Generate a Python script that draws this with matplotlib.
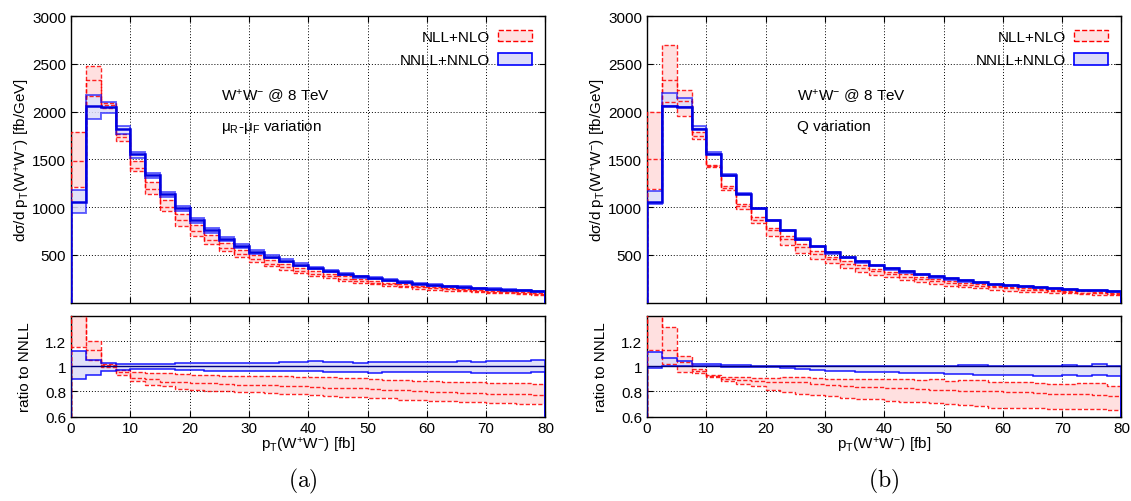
import matplotlib.pyplot as plt
import numpy as np
from matplotlib.patches import Patch

plt.rcParams["font.family"] = ["Liberation Sans", "DejaVu Sans"]
plt.rcParams["mathtext.fontset"] = "custom"
plt.rcParams["mathtext.rm"] = "Liberation Sans"
plt.rcParams["mathtext.it"] = "Liberation Sans:italic"
plt.rcParams["font.size"] = 11

# bin edges of pT(WW), 2.5 GeV bins
edges = np.arange(0, 82.5, 2.5)

# NNLL+NNLO central prediction [fb/GeV] (same in both panels)
nnll_central = [1050, 2060, 2050, 1815, 1555, 1332, 1137, 985, 865, 760, 668, 593, 534, 481, 436, 397,
                362, 330, 302, 274, 255, 233, 216, 199, 186, 172, 162, 150, 143, 135, 127, 119]

# (a) muR-muF variation, everything as ratio to NNLL central
nnll_up_a = [1.124, 1.053, 1.026, 1.021, 1.016, 1.016, 1.018, 1.024, 1.024, 1.024, 1.026, 1.029, 1.029, 1.026, 1.034, 1.037,
             1.039, 1.034, 1.032, 1.029, 1.032, 1.037, 1.037, 1.032, 1.034, 1.034, 1.045, 1.037, 1.045, 1.045, 1.045, 1.053]
nnll_dn_a = [0.895, 0.934, 0.966, 0.974, 0.976, 0.976, 0.976, 0.971, 0.968, 0.963, 0.963, 0.963, 0.961, 0.961, 0.961, 0.966,
             0.961, 0.955, 0.955, 0.955, 0.945, 0.953, 0.953, 0.955, 0.955, 0.953, 0.955, 0.950, 0.950, 0.950, 0.950, 0.953]
nll_up_a = [1.70, 1.20, 1.021, 0.974, 0.953, 0.945, 0.945, 0.942, 0.934, 0.932, 0.926, 0.926, 0.924, 0.924, 0.921, 0.916,
            0.913, 0.911, 0.908, 0.905, 0.895, 0.892, 0.889, 0.884, 0.879, 0.876, 0.874, 0.871, 0.866, 0.866, 0.863, 0.861]
nll_mid_a = [1.41, 1.13, 1.008, 0.955, 0.908, 0.895, 0.876, 0.876, 0.868, 0.868, 0.861, 0.853, 0.850, 0.847, 0.842, 0.839,
             0.834, 0.829, 0.826, 0.824, 0.816, 0.813, 0.808, 0.803, 0.797, 0.795, 0.789, 0.787, 0.782, 0.782, 0.776, 0.771]
nll_dn_a = [1.155, 1.05, 0.992, 0.934, 0.884, 0.850, 0.842, 0.816, 0.808, 0.803, 0.803, 0.795, 0.795, 0.789, 0.782, 0.776,
            0.771, 0.766, 0.755, 0.755, 0.745, 0.745, 0.732, 0.729, 0.724, 0.724, 0.718, 0.713, 0.708, 0.708, 0.703, 0.697]

# (b) Q variation
nnll_up_b = [1.113, 1.066, 1.045, 1.021, 1.016, 1.013, 1.008, 1.003, 1.0, 1.0, 1.005, 1.0, 1.0, 1.0, 1.0, 1.0,
             1.0, 1.0, 1.005, 1.005, 1.0, 1.011, 1.013, 1.0, 1.0, 1.0, 1.0, 1.0, 1.008, 1.0, 1.018, 1.0]
nnll_dn_b = [0.987, 1.0, 1.0, 1.0, 1.0, 0.997, 0.995, 0.995, 0.992, 0.987, 0.982, 0.974, 0.961, 0.961, 0.958, 0.955,
             0.953, 0.950, 0.945, 0.950, 0.942, 0.939, 0.934, 0.934, 0.934, 0.929, 0.926, 0.926, 0.929, 0.926, 0.934, 0.921]
nll_up_b = [1.90, 1.31, 1.084, 0.982, 0.929, 0.916, 0.911, 0.908, 0.908, 0.911, 0.913, 0.905, 0.900, 0.897, 0.897, 0.897,
            0.895, 0.895, 0.892, 0.895, 0.882, 0.892, 0.887, 0.876, 0.876, 0.871, 0.866, 0.861, 0.861, 0.863, 0.866, 0.845]
nll_mid_b = [1.43, 1.13, 1.03, 0.961, 0.921, 0.900, 0.887, 0.882, 0.874, 0.871, 0.871, 0.861, 0.850, 0.845, 0.837, 0.834,
             0.829, 0.824, 0.816, 0.811, 0.813, 0.805, 0.803, 0.800, 0.795, 0.792, 0.787, 0.782, 0.779, 0.776, 0.771, 0.763]
nll_dn_b = [1.13, 1.02, 0.955, 0.945, 0.913, 0.882, 0.861, 0.840, 0.811, 0.795, 0.782, 0.774, 0.766, 0.745, 0.739, 0.737,
            0.726, 0.718, 0.716, 0.708, 0.697, 0.692, 0.687, 0.671, 0.668, 0.666, 0.666, 0.660, 0.663, 0.660, 0.660, 0.653]

PINK = "#ffe0e0"
LBLUE = "#dcdcf8"
WW = "W$^{+}$W$^{-}$"


def draw_bands(ax, scale, nll, nnll, main):
    """nll = (up, mid, dn), nnll = (up, dn), all ratios; scale multiplies them."""
    nll = [np.asarray(v) * scale for v in nll]
    nnll = [np.asarray(v) * scale for v in nnll]
    ax.stairs(nll[0], edges, baseline=nll[2], fill=True, color=PINK, zorder=1)
    ax.stairs(nnll[0], edges, baseline=nnll[1], fill=True, color=LBLUE, alpha=0.85, zorder=2)
    for v in nll:
        ax.stairs(v, edges, color="red", ls=(0, (3, 1.5)), lw=1.0, alpha=0.85, zorder=3)
    for v in nnll:
        ax.stairs(v, edges, color="blue", lw=1.4 if main else 1.1, alpha=0.6 if main else 0.9, zorder=4)
    ax.stairs(scale * np.ones(len(edges) - 1), edges, color="#0000e0" if main else "#000080",
              lw=1.8 if main else 1.0, zorder=5)


def style(ax):
    ax.set_xlim(0, 80)
    ax.set_xticks(np.arange(0, 81, 10))
    ax.grid(True, color="black", ls=(0, (1, 2)), lw=0.7)
    ax.set_axisbelow(True)
    ax.tick_params(direction="in", top=True, right=True, length=4, labelsize=11)
    for s in ax.spines.values():
        s.set_linewidth(1.0)


fig = plt.figure(figsize=(11.31, 5.02), dpi=100)

panels = [
    (0.0628, "\u03bc$_\\mathrm{R}$-\u03bc$_\\mathrm{F}$ variation",
     (nll_up_a, nll_mid_a, nll_dn_a), (nnll_up_a, nnll_dn_a), "(a)", 0.268),
    (0.5721, "Q variation",
     (nll_up_b, nll_mid_b, nll_dn_b), (nnll_up_b, nnll_dn_b), "(b)", 0.781),
]

for left, vartxt, nll, nnll, cap, capx in panels:
    ax = fig.add_axes([left, 0.3954, 0.4195, 0.5707])
    rax = fig.add_axes([left, 0.1683, 0.4195, 0.2002])

    draw_bands(ax, np.asarray(nnll_central, float), nll, nnll, True)
    style(ax)
    ax.set_ylim(0, 3000)
    ax.set_yticks([500, 1000, 1500, 2000, 2500, 3000])
    ax.tick_params(labelbottom=False)
    ax.set_ylabel("d\u03c3/d p$_\\mathrm{T}$(" + WW + ") [fb/GeV]", fontsize=11)
    ax.yaxis.set_label_coords(-0.082, 0.5)
    ax.text(25.3, 2170, WW + " @ 8 TeV", fontsize=11, va="center")
    ax.text(25.3, 1850, vartxt, fontsize=11, va="center")

    handles = [Patch(facecolor=PINK, edgecolor="red", ls="--", lw=1.0),
               Patch(facecolor=LBLUE, edgecolor="blue", lw=1.2)]
    ax.legend(handles, ["NLL+NLO", "NNLL+NNLO"], loc="upper right", frameon=False,
              markerfirst=False, handlelength=2.2, handleheight=0.8, fontsize=11,
              borderaxespad=0.5, labelspacing=0.6, handletextpad=0.5)

    draw_bands(rax, 1.0, nll, nnll, False)
    style(rax)
    rax.set_ylim(0.6, 1.4)
    rax.set_yticks([0.6, 0.8, 1.0, 1.2])
    rax.set_yticklabels(["0.6", "0.8", "1", "1.2"])
    rax.set_ylabel("ratio to NNLL", fontsize=11)
    rax.yaxis.set_label_coords(-0.082, 0.5)
    rax.set_xlabel("p$_\\mathrm{T}$(" + WW + ") [fb]", fontsize=11, labelpad=0)

    fig.text(capx, 0.028, "$\\mathrm{" + cap + "}$", fontsize=17, ha="center", math_fontfamily="cm")

plt.savefig("out.png", dpi=100)
